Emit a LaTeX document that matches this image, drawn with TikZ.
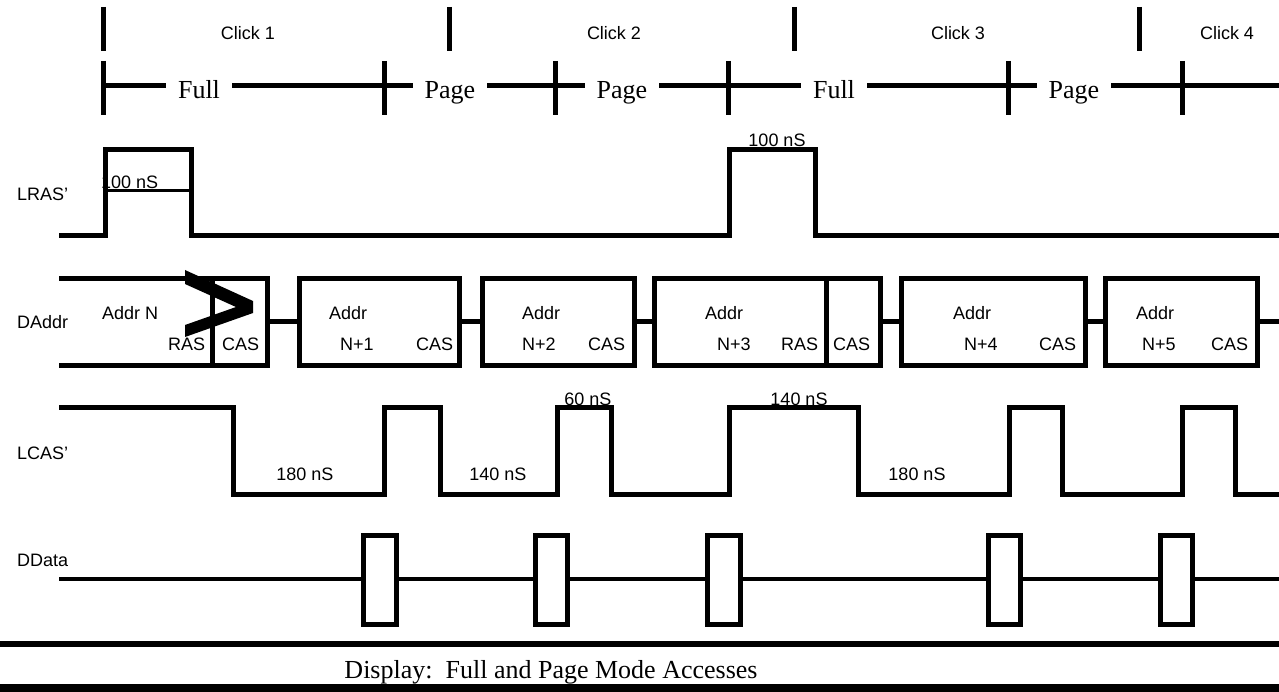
\documentclass[tikz,border=0pt]{standalone}
\usepackage{fontspec}
\setmainfont{Liberation Serif}
\setsansfont{Liberation Sans}

\begin{document}
\begin{tikzpicture}[x=1pt,y=-1pt]
        \tikzset{
          wave/.style={line width=5pt},
          thin wave/.style={line width=3pt},
          lbl/.style={font=\sffamily\fontsize{18}{20}\selectfont, inner sep=0pt},
          phase/.style={font=\rmfamily\fontsize{26}{28}\selectfont,
            fill=white, inner xsep=12pt, inner ysep=2pt},
          slot/.style={wave, fill=white},
        }
        \useasboundingbox (0,0) rectangle (1279,692);

        \foreach \x in {103,449,794,1139}
          \draw[wave] (\x,7) -- (\x,51);
        \foreach \x/\t [count=\i] in {248/1,614/2,958/3,1227/4}
          \node[lbl, anchor=base] (click\i) at (\x,40) {Click \t};

        \draw[wave] (103,86) -- (1279,86);
        \foreach \x in {103,384,555,728,1008,1182}
          \draw[wave] (\x,61) -- (\x,115);
        \foreach \x/\t [count=\i] in {199/Full,450/Page,622/Page,834/Full,1074/Page}
          \node[phase, anchor=base] (mode\i) at (\x,99) {\t};

        \node[lbl, anchor=base west] (lras) at (17,201) {LRAS’};
        \node[lbl, anchor=base west] (daddr) at (17,329) {DAddr};
        \node[lbl, anchor=base west] (lcas) at (17,459) {LCAS’};
        \node[lbl, anchor=base west] (ddata) at (17,566) {DData};

        \node[lbl, anchor=base west] (ras1) at (101,189) {100 nS};
        \draw[wave] (59,236) -- (105,236) -- (105,150) -- (191,150) -- (191,236)
          -- (729,236) -- (729,150) -- (815,150) -- (815,236) -- (1279,236);
        \draw[thin wave] (105,191) -- (191,191);
        \node[lbl, anchor=base] (ras2) at (777,147) {100 nS};

        \draw[wave] (267,322) -- (1279,322);
        \draw[wave] (59,279) -- (267,279) -- (267,365) -- (59,365);
        \draw[wave] (212,279) -- (212,365);
        \foreach \a/\b in {299/459,482/634,654/880,901/1085,1105/1257}
          \draw[slot] (\a,279) rectangle (\b,365);
        \draw[wave] (826,279) -- (826,365);
        \foreach \x/\y/\t [count=\i] in {102/320/Addr N,168/351/RAS,222/351/CAS,
            329/320/Addr,340/351/N+1,416/351/CAS,
            522/320/Addr,522/351/N+2,588/351/CAS,
            705/320/Addr,717/351/N+3,781/351/RAS,833/351/CAS,
            953/320/Addr,964/351/N+4,1039/351/CAS,
            1136/320/Addr,1142/351/N+5,1211/351/CAS}
          \node[lbl, anchor=base west] (addr\i) at (\x,\y) {\t};
        \fill (185,270) -- (253,301) -- (253,313) -- (185,337) -- (185,325)
          -- (236,307) -- (185,284) -- cycle;

        \draw[wave] (59,407) -- (233,407) -- (233,494) -- (384,494) -- (384,407)
          -- (440,407) -- (440,494) -- (557,494) -- (557,407) -- (611,407)
          -- (611,494) -- (729,494) -- (729,407) -- (858,407) -- (858,494)
          -- (1009,494) -- (1009,407) -- (1062,407) -- (1062,494) -- (1182,494)
          -- (1182,407) -- (1235,407) -- (1235,494) -- (1279,494);
        \node[lbl, anchor=base] (cas1) at (305,480) {180 nS};
        \node[lbl, anchor=base] (cas2) at (498,480) {140 nS};
        \node[lbl, anchor=base] (cas3) at (588,405) {60 nS};
        \node[lbl, anchor=base] (cas4) at (799,405) {140 nS};
        \node[lbl, anchor=base] (cas5) at (917,480) {180 nS};

        \draw[line width=4.5pt] (59,579) -- (1279,579);
        \foreach \a/\b in {363/396,535/567,707/740,988/1020,1160/1192}
          \draw[slot] (\a,535) rectangle (\b,624);

        \draw[line width=6pt] (0,644) -- (1279,644);
        \draw[line width=9pt] (0,688) -- (1279,688);
        \node[font=\rmfamily\fontsize{26}{28}\selectfont, anchor=base] (caption)
          at (551,678) {Display:~~Full and Page Mode Accesses};
\end{tikzpicture}
\end{document}
